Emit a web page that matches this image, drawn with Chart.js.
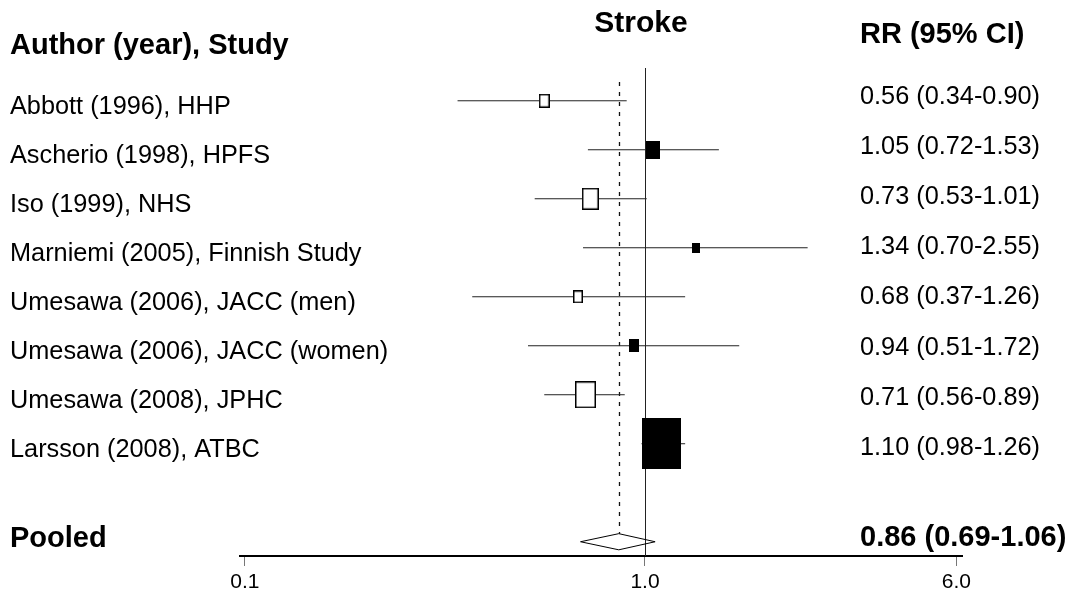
<!DOCTYPE html>
<html><head><meta charset="utf-8">
<script src="https://cdn.jsdelivr.net/npm/chart.js@4.4.1/dist/chart.umd.min.js"></script>
<style>html,body{margin:0;padding:0;background:#fff}#wrap{width:1079px;height:594px;position:relative}</style>
</head><body><div id="wrap"><canvas id="c" width="1079" height="594"></canvas></div>
<script>
// ---- data ----
const chartTitle = "Stroke";
const leftHeader = "Author (year), Study";
const rightHeader = "RR (95% CI)";
const studies = [
  "Abbott (1996), HHP",
  "Ascherio (1998), HPFS",
  "Iso (1999), NHS",
  "Marniemi (2005), Finnish Study",
  "Umesawa (2006), JACC (men)",
  "Umesawa (2006), JACC (women)",
  "Umesawa (2008), JPHC",
  "Larsson (2008), ATBC"
];
const rr    = [0.56, 1.05, 0.73, 1.34, 0.68, 0.94, 0.71, 1.10];
const lower = [0.34, 0.72, 0.53, 0.70, 0.37, 0.51, 0.56, 0.98];
const upper = [0.90, 1.53, 1.01, 2.55, 1.26, 1.72, 0.89, 1.26];
const weights = [4.3, 6.8, 9.7, 1.9, 3.6, 3.3, 15.5, 54.9];
const filledBox = [false, true, false, true, false, true, false, true];
const pooledLabel = "Pooled";
const pooledRR = [0.86];
const pooledLower = [0.69];
const pooledUpper = [1.06];
const xTicks = [0.1, 1.0, 6.0];

// ---- derived ----
const FONT = "'Liberation Sans', Arial, Helvetica, sans-serif";
const pooledRow = studies.length + 1;
const fmt = (a, b, c) => `${a.toFixed(2)} (${b.toFixed(2)}-${c.toFixed(2)})`;

function boxImage(w, filled) {
  const h = Math.round(Math.sqrt(w) * 6.95);
  const bw = Math.round(h * 0.77);
  const cv = document.createElement('canvas');
  cv.width = bw; cv.height = h;
  const g = cv.getContext('2d');
  if (filled) { g.fillStyle = '#000'; g.fillRect(0, 0, bw, h); }
  else {
    g.fillStyle = '#fff'; g.fillRect(0, 0, bw, h);
    g.strokeStyle = '#000'; g.lineWidth = 1.5; g.strokeRect(0.75, 0.75, bw - 1.5, h - 1.5);
  }
  return cv;
}
const boxes = weights.map((w, i) => boxImage(w, filledBox[i]));

const ciData = [];
studies.forEach((s, i) => {
  ciData.push({x: lower[i], y: i}, {x: upper[i], y: i}, {x: upper[i], y: null});
});
const pointData = studies.map((s, i) => ({x: rr[i], y: i}));
const dH = 0.165;
const diamondData = [
  {x: pooledLower[0], y: pooledRow},
  {x: pooledRR[0], y: pooledRow - dH},
  {x: pooledUpper[0], y: pooledRow},
  {x: pooledRR[0], y: pooledRow + dH},
  {x: pooledLower[0], y: pooledRow}
];

const forestPlugin = {
  id: 'forest',
  beforeDatasetsDraw(chart) {
    const {ctx, chartArea, scales: {x, y}} = chart;
    ctx.save();
    const x1 = Math.round(x.getPixelForValue(1)) + 0.5;
    ctx.strokeStyle = '#222'; ctx.lineWidth = 1;
    ctx.beginPath(); ctx.moveTo(x1, chartArea.top + 8); ctx.lineTo(x1, chartArea.bottom); ctx.stroke();
    const xp = Math.round(x.getPixelForValue(pooledRR[0])) + 0.5;
    ctx.setLineDash([4, 6]);
    ctx.strokeStyle = '#111';
    ctx.lineWidth = 1.3;
    ctx.beginPath(); ctx.moveTo(xp, chartArea.top + 22); ctx.lineTo(xp, y.getPixelForValue(pooledRow - dH)); ctx.stroke();
    ctx.restore();
  },
  afterDraw(chart) {
    const {ctx, scales: {x, y}} = chart;
    ctx.save();
    ctx.fillStyle = '#000';
    ctx.textBaseline = 'alphabetic';
    ctx.textAlign = 'center';
    ctx.font = `bold 30px ${FONT}`;
    ctx.fillText(chartTitle, x.getPixelForValue(1) - 4, 32);
    ctx.textAlign = 'left';
    ctx.font = `bold 29px ${FONT}`;
    ctx.fillText(leftHeader, 10, 54);
    ctx.fillText(rightHeader, 860, 43);
    ctx.font = `25.3px ${FONT}`;
    studies.forEach((s, i) => {
      ctx.fillText(s, 10, y.getPixelForValue(i) + 13.5);
      ctx.fillText(fmt(rr[i], lower[i], upper[i]), 860, y.getPixelForValue(i) + 3 + 1.15 * i);
    });
    ctx.font = `bold 29px ${FONT}`;
    ctx.fillText(pooledLabel, 10, y.getPixelForValue(pooledRow) + 5);
    ctx.fillText(fmt(pooledRR[0], pooledLower[0], pooledUpper[0]), 860, y.getPixelForValue(pooledRow) + 4);
    ctx.restore();
  }
};

new Chart(document.getElementById('c'), {
  type: 'line',
  data: {
    datasets: [
      {data: ciData, borderColor: '#222', borderWidth: 1, pointRadius: 0, spanGaps: false, order: 3, tension: 0},
      {data: pointData, showLine: false, pointStyle: (c) => boxes[c.dataIndex], pointRadius: 5, order: 2},
      {data: diamondData, borderColor: '#000', borderWidth: 1, backgroundColor: '#fff', fill: false, pointRadius: 0, tension: 0, order: 1}
    ]
  },
  options: {
    responsive: false,
    animation: false,
    devicePixelRatio: 1,
    events: [],
    layout: {padding: {top: 60, left: 240, right: 117, bottom: 0}},
    plugins: {legend: {display: false}, tooltip: {enabled: false}, title: {display: false}},
    scales: {
      x: {
        type: 'logarithmic',
        min: 0.0972, max: 6.2,
        afterBuildTicks: (s) => { s.ticks = xTicks.map(v => ({value: v})); },
        afterFit: (s) => { s.height = 38; },
        ticks: {
          callback: (v) => Number(v).toFixed(1),
          font: {size: 21, family: FONT}, color: '#000', padding: 4,
          maxRotation: 0, autoSkip: false
        },
        grid: {display: true, drawOnChartArea: false, drawTicks: true, tickLength: 10, color: '#777', lineWidth: 1},
        border: {display: true, color: '#000', width: 2}
      },
      y: {type: 'linear', reverse: true, min: -0.832, max: 9.291, display: false}
    }
  },
  plugins: [forestPlugin]
});
</script>
</body></html>
